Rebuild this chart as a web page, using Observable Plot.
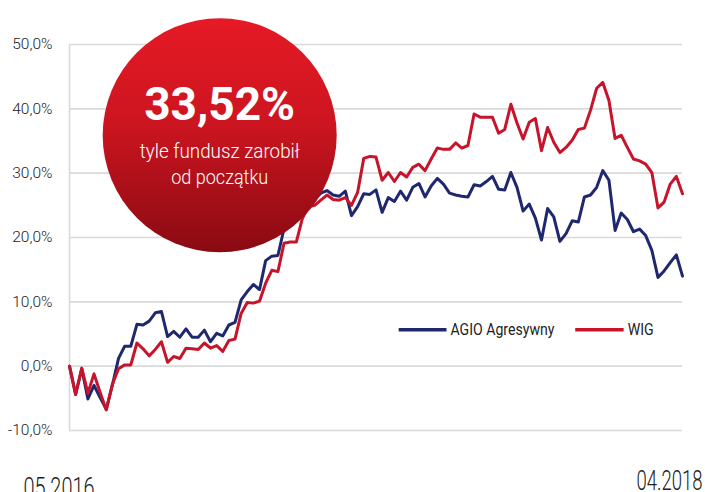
<!DOCTYPE html>
<html>
<head>
<meta charset="utf-8">
<script src="https://cdn.jsdelivr.net/npm/d3@7"></script>
<script src="https://cdn.jsdelivr.net/npm/@observablehq/plot@0.6"></script>
<style>
  html, body { margin: 0; padding: 0; background: #fff; }
  #chart { width: 705px; height: 492px; overflow: hidden; }
</style>
</head>
<body>
<div id="chart"></div>
<script>
// ---- data (weekly observations, 05.2016 – 04.2018) ----
const agio = [0,-4.4,-0.4,-5.1,-3.0,-4.9,-6.7,-2.9,1.2,3.1,
  3.1,6.5,6.4,7.0,8.3,8.5,4.6,5.4,4.5,5.8,
  4.5,4.5,5.6,3.8,5.1,4.7,6.4,6.8,10.3,11.6,
  12.7,11.9,16.4,17.1,17.2,21.4,24.2,25.8,26.2,25.9,
  25.9,26.9,27.3,26.6,26.4,27.2,23.4,24.8,26.8,26.7,
  27.4,23.9,26.2,25.6,27.2,25.8,27.8,28.4,26.3,28.0,
  29.2,28.3,26.9,26.6,26.4,26.3,28.2,28.0,28.7,29.5,
  27.5,27.4,30.1,27.8,24.1,25.2,23.0,19.6,24.5,23.2,
  19.4,20.6,22.6,22.4,26.3,26.6,27.8,30.4,28.9,21.1,
  23.8,22.8,20.9,21.3,20.3,18.0,13.8,14.8,16.1,17.3,
  14.0];
const wig = [0,-4.4,-0.3,-4.2,-1.2,-4.1,-6.8,-2.8,-0.4,0.2,
  0.2,3.6,2.7,1.6,2.6,3.8,0.6,1.5,1.2,2.8,
  2.7,2.6,3.6,2.8,3.2,2.3,4.0,4.2,8.2,9.9,
  9.8,10.1,12.9,14.9,14.7,19.1,19.3,19.3,23.0,24.8,
  25.0,25.8,26.6,25.9,25.8,26.2,25.0,27.0,32.3,32.6,
  32.5,28.9,30.1,28.7,30.1,29.4,30.9,31.4,30.4,32.2,
  33.9,33.7,33.7,34.7,33.9,34.3,39.2,38.7,38.7,38.7,
  36.2,36.8,40.7,37.8,35.3,37.9,38.5,33.5,37.1,34.8,
  33.2,34.0,35.1,36.8,37.0,39.8,43.2,44.1,41.3,35.4,
  35.9,34.0,32.2,31.9,31.4,30.1,24.6,25.5,28.3,29.5,
  26.8];
const seriesNames = ["AGIO Agresywny", "WIG"];
const yTicks = [-10, 0, 10, 20, 30, 40, 50];
const periodLabels = ["05.2016", "04.2018"];
const badgeValue = "33,52%";
const badgeLines = ["tyle fundusz zarobił", "od początku"];

// ---- build tables ----
const weeks = agio.map((_, i) => i);
const rows = [
  ...weeks.map(i => ({week: i, value: agio[i], series: seriesNames[0]})),
  ...weeks.map(i => ({week: i, value: wig[i], series: seriesNames[1]}))
];
const lastWeek = weeks[weeks.length - 1];

const BLUE = "#1f286e", RED = "#c8142a", GRID = "#d9d9d9", TXT = "#222";
const FONT = "Roboto, 'Open Sans', sans-serif";

// badge & legend placement (in chart coordinates)
const badge = [{week: 24.5, value: 35.9}];
const legend = [
  {name: seriesNames[0], color: BLUE, x1: 53.7, x2: 61.5, value: 5.66},
  {name: seriesNames[1], color: RED,  x1: 82.5, x2: 90.4, value: 5.66}
];

const gradientDefs = () => {
  const defs = d3.create("svg:defs");
  const g = defs.append("linearGradient").attr("id", "badgeGrad")
    .attr("x1", 0).attr("y1", 0).attr("x2", 0).attr("y2", 1);
  g.append("stop").attr("offset", "0%").attr("stop-color", "#e51a25");
  g.append("stop").attr("offset", "45%").attr("stop-color", "#cc1520");
  g.append("stop").attr("offset", "100%").attr("stop-color", "#8a0a12");
  return defs.node();
};

const chart = Plot.plot({
  width: 705,
  height: 492,
  marginTop: 44,
  marginBottom: 62,
  marginLeft: 69,
  marginRight: 23,
  style: {fontFamily: FONT, background: "#fff", overflow: "hidden"},
  x: {domain: [0, lastWeek], axis: null},
  y: {domain: [-10, 50], axis: null},
  marks: [
    gradientDefs,
    Plot.gridY(yTicks, {stroke: GRID, strokeOpacity: 1, strokeWidth: 1.6}),
    Plot.ruleX([0], {stroke: GRID, strokeWidth: 1.6}),
    Plot.axisY(yTicks, {
      label: null, tickSize: 0, tickPadding: 17, fontSize: 15.5, fontWeight: 300, fill: TXT,
      tickFormat: d => d.toFixed(1).replace(".", ",") + "%"
    }),
    Plot.line(rows.filter(d => d.series === seriesNames[0]), {
      x: "week", y: "value", stroke: BLUE, strokeWidth: 3, strokeLinejoin: "round"
    }),
    Plot.line(rows.filter(d => d.series === seriesNames[1]), {
      x: "week", y: "value", stroke: RED, strokeWidth: 3, strokeLinejoin: "round"
    }),
    // badge
    Plot.dot(badge, {x: "week", y: "value", r: 117, fill: "url(#badgeGrad)", stroke: "none"}),
    Plot.text(badge, {x: "week", y: "value", text: () => badgeValue, dy: -30,
      fill: "#fff", fontSize: 46, fontWeight: 700}),
    Plot.text(badge, {x: "week", y: "value", text: () => badgeLines[0], dy: 16,
      fill: "#fff", fontSize: 20, fontWeight: 300}),
    Plot.text(badge, {x: "week", y: "value", text: () => badgeLines[1], dy: 42,
      fill: "#fff", fontSize: 20, fontWeight: 300}),
    // legend
    Plot.link(legend, {x1: "x1", x2: "x2", y1: "value", y2: "value", stroke: "color", strokeWidth: 3.5}),
    Plot.text(legend, {x: "x2", y: "value", text: "name", dx: 4, dy: 0, textAnchor: "start",
      fill: TXT, fontSize: 16, fontWeight: 400}),
    // period labels
    Plot.text([periodLabels[0]], {x: [0], frameAnchor: "bottom", text: d => d, dx: -46, dy: 66,
      lineAnchor: "bottom", textAnchor: "start", fill: TXT, fontSize: 28, fontWeight: 300}),
    Plot.text([periodLabels[1]], {x: [lastWeek], frameAnchor: "bottom", text: d => d, dx: 20, dy: 59,
      lineAnchor: "bottom", textAnchor: "end", fill: TXT, fontSize: 28, fontWeight: 300})
  ]
});

// condense a few labels to match the narrow typeface of the original
const widths = {"05.2016": 71, "04.2018": 66, "tyle fundusz zarobił": 160, "od początku": 97, "AGIO Agresywny": 104, "WIG": 26};
d3.select(chart).selectAll("text").each(function() {
  const t = this.textContent;
  if (widths[t]) {
    d3.select(this).attr("textLength", widths[t]).attr("lengthAdjust", "spacingAndGlyphs");
  }
});
document.getElementById("chart").appendChild(chart);
</script>
</body>
</html>
